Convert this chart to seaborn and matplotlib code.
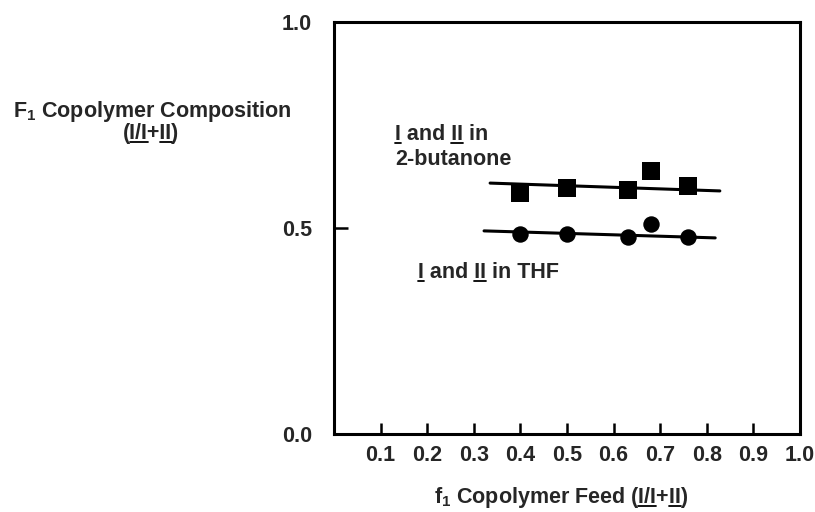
import pandas as pd
import matplotlib.pyplot as plt
import seaborn as sns
from matplotlib.lines import Line2D

# values
feed_butanone = [0.40, 0.50, 0.63, 0.68, 0.76]
comp_butanone = [0.585, 0.597, 0.592, 0.638, 0.601]
feed_thf = [0.40, 0.50, 0.63, 0.68, 0.76]
comp_thf = [0.485, 0.485, 0.478, 0.510, 0.478]

# hand-drawn fit lines (end points)
fit_butanone_x = [0.335, 0.828]
fit_butanone_y = [0.609, 0.590]
fit_thf_x = [0.322, 0.818]
fit_thf_y = [0.493, 0.476]

x_ticks = [0.1, 0.2, 0.3, 0.4, 0.5, 0.6, 0.7, 0.8, 0.9, 1.0]
y_ticks = [0.0, 0.5, 1.0]

W, H = 815, 512
FS = 15.5

sns.set_style('white')
plt.rcParams['font.family'] = ['Liberation Sans', 'DejaVu Sans']
plt.rcParams['font.weight'] = 'bold'
plt.rcParams['mathtext.fontset'] = 'custom'
plt.rcParams['mathtext.rm'] = 'Liberation Sans:bold'
plt.rcParams['mathtext.bf'] = 'Liberation Sans:bold'
plt.rcParams['mathtext.it'] = 'Liberation Sans:bold'

fig = plt.figure(figsize=(W / 100, H / 100), dpi=100)
ax = fig.add_axes([334 / W, 1 - 434 / H, 466 / W, 412 / H])

df_b = pd.DataFrame({'feed': feed_butanone, 'comp': comp_butanone})
df_t = pd.DataFrame({'feed': feed_thf, 'comp': comp_thf})
fit_b = pd.DataFrame({'feed': fit_butanone_x, 'comp': fit_butanone_y})
fit_t = pd.DataFrame({'feed': fit_thf_x, 'comp': fit_thf_y})

sns.lineplot(data=fit_b, x='feed', y='comp', color='black', linewidth=2.2, ax=ax)
sns.lineplot(data=fit_t, x='feed', y='comp', color='black', linewidth=2.2, ax=ax)
sns.scatterplot(data=df_b, x='feed', y='comp', marker='s', s=155, color='black',
                linewidth=0, ax=ax, zorder=3)
sns.scatterplot(data=df_t, x='feed', y='comp', marker='o', s=140, color='black',
                linewidth=0, ax=ax, zorder=3)

ax.set_xlim(0, 1.0)
ax.set_ylim(0, 1.0)
ax.set_xticks(x_ticks)
ax.set_xticklabels([f'{v:.1f}' for v in x_ticks])
ax.set_yticks(y_ticks)
ax.set_yticklabels([f'{v:.1f}' for v in y_ticks])
ax.tick_params(axis='x', bottom=True, direction='in', length=8, width=1.8, pad=8,
               labelsize=FS, color='black')
ax.tick_params(axis='y', left=True, direction='in', length=10, width=1.8, pad=16,
               labelsize=FS, color='black')
for lab in ax.get_xticklabels() + ax.get_yticklabels():
    lab.set_fontweight('bold')
for sp in ax.spines.values():
    sp.set_linewidth(2.2)
    sp.set_color('black')
ax.set_xlabel('')
ax.set_ylabel('')

renderer = fig.canvas.get_renderer()


def str_width(s):
    t = fig.text(0, 0, s + '|', fontsize=FS, fontweight='bold')
    w = t.get_window_extent(renderer).width
    t.set_text('|')
    w -= t.get_window_extent(renderer).width
    t.remove()
    return w


def underlined(x_px, y_px, parts, ha='left'):
    # x_px, y_px: pixels from the left / top, y is the baseline
    full = ''.join(p for p, _ in parts)
    x0 = x_px - str_width(full) / 2 if ha == 'center' else x_px
    yb = H - y_px
    fig.text(x0 / W, yb / H, full, fontsize=FS, fontweight='bold',
             ha='left', va='baseline')
    prefix = ''
    for s, u in parts:
        if u:
            a = x0 + str_width(prefix)
            b = x0 + str_width(prefix + s)
            fig.add_artist(Line2D([a / W, b / W], [(yb - 3) / H] * 2, color='black',
                                  linewidth=1.3, transform=fig.transFigure))
        prefix += s


underlined(395, 140, [('I', True), (' and ', False), ('II', True), (' in', False)])
underlined(395, 165, [('2-butanone', False)])
underlined(418, 278, [('I', True), (' and ', False), ('II', True), (' in THF', False)])

underlined(152, 117, [('F$_{1}$ Copolymer Composition', False)], ha='center')
underlined(151, 139, [('(', False), ('I/I', True), ('+', False), ('II', True), (')', False)],
           ha='center')
underlined(561, 503, [('f$_{1}$ Copolymer Feed (', False), ('I/I', True), ('+', False),
                      ('II', True), (')', False)], ha='center')

fig.savefig('out.png', dpi=100)
